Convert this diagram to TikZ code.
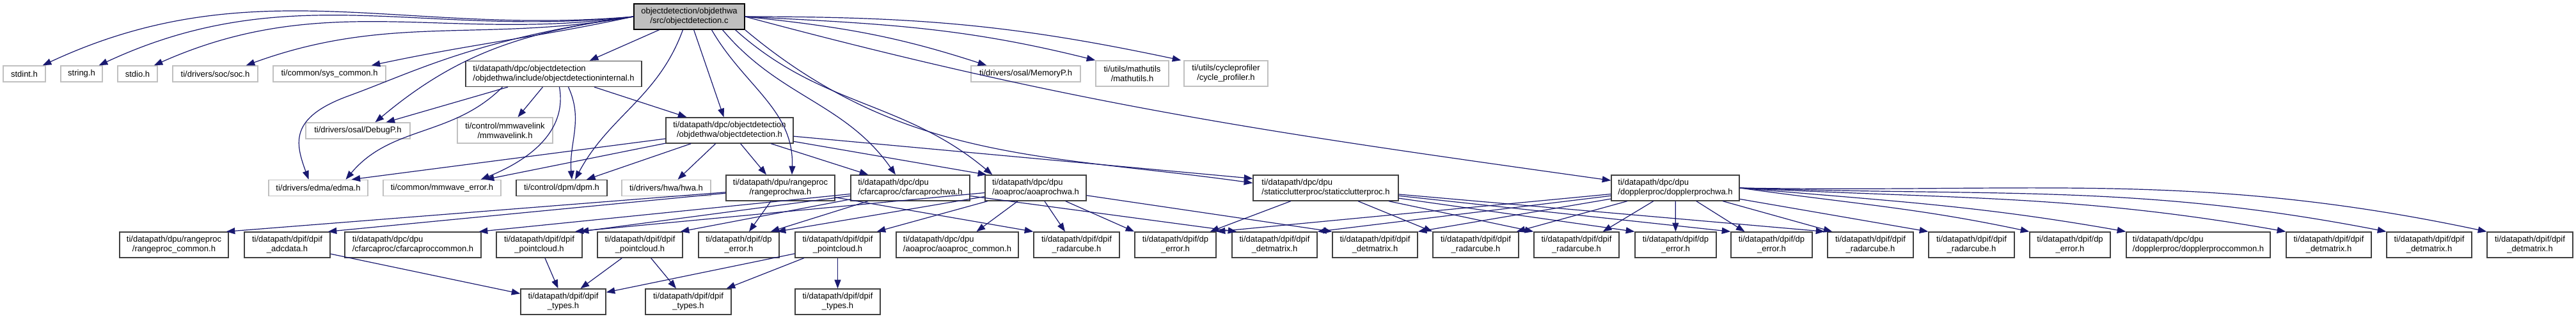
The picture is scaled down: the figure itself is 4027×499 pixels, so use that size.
\documentclass[tikz,border=0pt]{standalone}
\usepackage{fontspec}
\usepackage{tikz}
\usetikzlibrary{arrows.meta}
\usepackage{xcolor}
\newfontfamily\doxfont{Liberation Sans}
\newdimen\dpx
\dpx=0.25pt
\definecolor{DoxEdge}{HTML}{191970}
\definecolor{DoxGrey}{HTML}{C0C0C0}
\definecolor{DoxFill}{HTML}{BFBFBF}
\definecolor{DoxBorder}{HTML}{404040}
\tikzset{
  hdr/.style={draw=DoxBorder,fill=white,line width=0.35pt,font=\doxfont\fontsize{3.25pt}{3.75pt}\selectfont,inner xsep=3\dpx,inner ysep=2\dpx,minimum height=40\dpx,align=center},
  exthdr/.style={hdr,draw=DoxGrey},
  oneline/.style={minimum height=25\dpx},
  dep/.style={draw=DoxEdge,line width=0.3pt,-{Triangle[length=3.4pt,width=2.5pt]}}
}

\begin{document}
\begin{tikzpicture}[x=0.25pt,y=-0.25pt]
        \useasboundingbox[fill=white] (0,0) rectangle (4027,499);

        \node[hdr,fill=DoxFill,draw=black,minimum width=173\dpx] (top) at (1077.5,26) {objectdetection/objdethwa\\/src/objectdetection.c};

        \node[exthdr,oneline,minimum width=66\dpx] (stdint) at (38,115.5) {stdint.h};
        \node[exthdr,oneline,minimum width=65\dpx] (string) at (127.5,115.5) {string.h};
        \node[exthdr,oneline,minimum width=62\dpx] (stdio) at (215,115.5) {stdio.h};
        \node[exthdr,oneline,minimum width=133\dpx] (soc) at (336.5,115.5) {ti/drivers/soc/soc.h};
        \node[exthdr,oneline,minimum width=176\dpx] (syscommon) at (515,115.5) {ti/common/sys\_common.h};
        \node[hdr,align=left,minimum width=275\dpx] (internal) at (865.5,115.5) {ti/datapath/dpc/objectdetection\\/objdethwa/include/objectdetectioninternal.h};
        \node[exthdr,oneline,minimum width=171\dpx] (memoryp) at (1603.5,115.5) {ti/drivers/osal/MemoryP.h};
        \node[exthdr,minimum width=114\dpx] (mathutils) at (1770,115) {ti/utils/mathutils\\/mathutils.h};
        \node[exthdr,minimum width=131\dpx] (cycleprof) at (1916.5,115) {ti/utils/cycleprofiler\\/cycle\_profiler.h};

        \node[exthdr,oneline,minimum width=163\dpx] (debugp) at (559.5,204.5) {ti/drivers/osal/DebugP.h};
        \node[exthdr,minimum width=149\dpx] (mmwlink) at (789.5,204) {ti/control/mmwavelink\\/mmwavelink.h};
        \node[hdr,minimum width=199\dpx] (objdet) at (1140.5,204) {ti/datapath/dpc/objectdetection\\/objdethwa/objectdetection.h};

        \node[exthdr,oneline,minimum width=155\dpx] (edma) at (497.5,294) {ti/drivers/edma/edma.h};
        \node[exthdr,oneline,minimum width=184\dpx] (mmwerr) at (691,294) {ti/common/mmwave\_error.h};
        \node[hdr,oneline,minimum width=142\dpx] (dpm) at (878,294) {ti/control/dpm/dpm.h};
        \node[exthdr,oneline,minimum width=139\dpx] (hwa) at (1041.5,294) {ti/drivers/hwa/hwa.h};
        \node[hdr,minimum width=170\dpx] (rangehwa) at (1220,294) {ti/datapath/dpu/rangeproc\\/rangeprochwa.h};
        \node[hdr,align=left,minimum width=186\dpx] (cfarhwa) at (1423,294) {ti/datapath/dpc/dpu\\/cfarcaproc/cfarcaprochwa.h};
        \node[hdr,align=left,minimum width=158\dpx] (aoahwa) at (1619,294) {ti/datapath/dpc/dpu\\/aoaproc/aoaprochwa.h};
        \node[hdr,align=left,minimum width=227\dpx] (clutter) at (2072.5,294) {ti/datapath/dpc/dpu\\/staticclutterproc/staticclutterproc.h};
        \node[hdr,align=left,minimum width=200\dpx] (dopplerhwa) at (2619,294) {ti/datapath/dpc/dpu\\/dopplerproc/dopplerprochwa.h};

        \node[hdr,minimum width=170\dpx] (rangecommon) at (272,383) {ti/datapath/dpu/rangeproc\\/rangeproc\_common.h};
        \node[hdr,minimum width=134\dpx] (adcdata) at (449,383) {ti/datapath/dpif/dpif\\\_adcdata.h};
        \node[hdr,align=left,minimum width=213\dpx] (cfarcommon) at (645.5,383) {ti/datapath/dpc/dpu\\/cfarcaproc/cfarcaproccommon.h};
        \node[hdr,minimum width=134\dpx] (pcloudA) at (843,383) {ti/datapath/dpif/dpif\\\_pointcloud.h};
        \node[hdr,minimum width=133\dpx] (pcloudB) at (1000.5,383) {ti/datapath/dpif/dpif\\\_pointcloud.h};
        \node[hdr,minimum width=126\dpx] (errA) at (1155,383) {ti/datapath/dpif/dp\\\_error.h};
        \node[hdr,minimum width=133\dpx] (pcloudC) at (1309.5,383) {ti/datapath/dpif/dpif\\\_pointcloud.h};
        \node[hdr,align=left,minimum width=191\dpx] (aoacommon) at (1496.5,383) {ti/datapath/dpc/dpu\\/aoaproc/aoaproc\_common.h};
        \node[hdr,minimum width=134\dpx] (cubeA) at (1683,383) {ti/datapath/dpif/dpif\\\_radarcube.h};
        \node[hdr,minimum width=127\dpx] (errB) at (1837.5,383) {ti/datapath/dpif/dp\\\_error.h};
        \node[hdr,minimum width=133\dpx] (detA) at (1992.5,383) {ti/datapath/dpif/dpif\\\_detmatrix.h};
        \node[hdr,minimum width=133\dpx] (detB) at (2149.5,383) {ti/datapath/dpif/dpif\\\_detmatrix.h};
        \node[hdr,minimum width=134\dpx] (cubeB) at (2307,383) {ti/datapath/dpif/dpif\\\_radarcube.h};
        \node[hdr,minimum width=133\dpx] (cubeC) at (2464.5,383) {ti/datapath/dpif/dpif\\\_radarcube.h};
        \node[hdr,minimum width=127\dpx] (errC) at (2619.5,383) {ti/datapath/dpif/dp\\\_error.h};
        \node[hdr,minimum width=127\dpx] (errD) at (2769.5,383) {ti/datapath/dpif/dp\\\_error.h};
        \node[hdr,minimum width=134\dpx] (cubeD) at (2924,383) {ti/datapath/dpif/dpif\\\_radarcube.h};
        \node[hdr,minimum width=134\dpx] (cubeE) at (3082,383) {ti/datapath/dpif/dpif\\\_radarcube.h};
        \node[hdr,minimum width=126\dpx] (errE) at (3236,383) {ti/datapath/dpif/dp\\\_error.h};
        \node[hdr,align=left,minimum width=225\dpx] (dopplercommon) at (3436.5,383) {ti/datapath/dpc/dpu\\/dopplerproc/dopplerproccommon.h};
        \node[hdr,minimum width=133\dpx] (detC) at (3640.5,383) {ti/datapath/dpif/dpif\\\_detmatrix.h};
        \node[hdr,minimum width=133\dpx] (detD) at (3797.5,383) {ti/datapath/dpif/dpif\\\_detmatrix.h};
        \node[hdr,minimum width=134\dpx] (detE) at (3955,383) {ti/datapath/dpif/dpif\\\_detmatrix.h};

        \node[hdr,minimum width=133\dpx] (typesA) at (880.5,472) {ti/datapath/dpif/dpif\\\_types.h};
        \node[hdr,minimum width=134\dpx] (typesB) at (1076,472) {ti/datapath/dpif/dpif\\\_types.h};
        \node[hdr,minimum width=133\dpx] (typesC) at (1309.5,472) {ti/datapath/dpif/dpif\\\_types.h};

        \coordinate (edmabend) at (545,150);

        \draw[dep] (top.west) to[out=185,in=25] ([xshift=-5\dpx]stdint.north east);
        \draw[dep] (top.west) to[out=186,in=25] ([xshift=-6\dpx]string.north east);
        \draw[dep] (top.west) to[out=188,in=24] ([xshift=-6\dpx]stdio.north east);
        \draw[dep] (top.west) to[out=190,in=20] ([xshift=-19\dpx]soc.north east);
        \draw[dep] (top.west) to[out=192,in=12] ([xshift=-23\dpx]syscommon.north east);
        \draw[dep] (top.west) to[out=188,in=40] ([xshift=27\dpx]debugp.north);
        \draw[dep] (top.west) to[out=188,in=20,out distance=250\dpx,in distance=110\dpx] (edmabend)
          to[out=200,in=110,out distance=100\dpx,in distance=60\dpx] ([xshift=-15\dpx]edma.north);
        \draw[dep] (top) -- ([xshift=-82\dpx]internal.north east);
        \draw[dep] ([xshift=-10\dpx]top.south) to[out=-110,in=62] ([xshift=21\dpx]dpm.north);
        \draw[dep] (top) -- ([xshift=-9\dpx]objdet.north);
        \draw[dep] ([xshift=35\dpx]top.south) to[out=-60,in=88] ([xshift=18\dpx]rangehwa.north);
        \draw[dep] ([xshift=52\dpx]top.south) to[out=-50,in=125] ([xshift=-23\dpx]cfarhwa.north);
        \draw[dep] ([xshift=72\dpx]top.south) to[out=-42,in=140] ([xshift=12\dpx]aoahwa.north west);
        \draw[dep] (top.south east) to[out=-40,in=172] ([yshift=-13\dpx]clutter.north west);
        \draw[dep] (top.east) to[out=-15,in=172] ([yshift=-9\dpx]dopplerhwa.north west);
        \draw[dep] (top.east) to[out=-6,in=162] ([xshift=25\dpx]memoryp.north west);
        \draw[dep] (top.east) to[out=-3,in=166] (mathutils.north west);
        \draw[dep] (top.east) to[out=0,in=168] ([xshift=-4\dpx]cycleprof.north west);

        \draw[dep] (internal) -- ([xshift=44\dpx]debugp.north);
        \draw[dep] ([xshift=-80\dpx]internal.south) to[out=-135,in=50] ([xshift=43\dpx]edma.north);
        \draw[dep] (internal) -- ([xshift=20\dpx]mmwlink.north);
        \draw[dep] ([xshift=9\dpx]internal.south) to[out=-80,in=22] ([xshift=-32\dpx]mmwerr.north east);
        \draw[dep] ([xshift=23\dpx]internal.south) to[out=-65,in=95] ([xshift=16\dpx]dpm.north);
        \draw[dep] (internal) -- ([xshift=-67\dpx]objdet.north);

        \draw[dep] (objdet) -- ([xshift=52\dpx]edma.north);
        \draw[dep] (objdet) -- ([xshift=-25\dpx]mmwerr.north east);
        \draw[dep] (objdet) -- ([xshift=39\dpx]dpm.north);
        \draw[dep] (objdet) -- ([xshift=18\dpx]hwa.north);
        \draw[dep] (objdet) -- ([xshift=-22\dpx]rangehwa.north);
        \draw[dep] (objdet) -- ([xshift=28\dpx]cfarhwa.north west);
        \draw[dep] (objdet) -- ([xshift=3\dpx]aoahwa.north west);
        \draw[dep] (objdet) -- ([yshift=-6\dpx]clutter.north west);

        \draw[dep] (rangehwa) -- ([xshift=-4\dpx]rangecommon.north east);
        \draw[dep] (rangehwa) -- ([xshift=-4\dpx]adcdata.north east);
        \draw[dep] (rangehwa) -- ([xshift=16\dpx]errA.north);
        \draw[dep] (rangehwa) -- (cubeA.north west);
        \draw[dep] (cfarhwa) -- ([xshift=-4\dpx]cfarcommon.north east);
        \draw[dep] (cfarhwa) -- ([xshift=-4\dpx]pcloudA.north east);
        \draw[dep] (cfarhwa) -- ([xshift=-4\dpx]pcloudB.north east);
        \draw[dep] (cfarhwa) -- ([xshift=-14\dpx]errA.north east);
        \draw[dep] (cfarhwa) -- ([xshift=8\dpx]detA.north west);
        \draw[dep] (aoahwa) -- ([xshift=-12\dpx]pcloudA.north east);
        \draw[dep] (aoahwa) -- ([xshift=-4\dpx]errA.north east);
        \draw[dep] (aoahwa) -- ([xshift=-6\dpx]pcloudC.north east);
        \draw[dep] (aoahwa) -- ([xshift=30\dpx]aoacommon.north);
        \draw[dep] (aoahwa) -- ([xshift=-18\dpx]cubeA.north);
        \draw[dep] (aoahwa) -- (errB.north west);
        \draw[dep] (aoahwa) -- (detB.north west);
        \draw[dep] (clutter) -- ([xshift=-10\dpx]errB.north east);
        \draw[dep] (clutter) -- (cubeB.north west);
        \draw[dep] (clutter) -- (cubeC.north west);
        \draw[dep] (clutter) -- (errC.north west);
        \draw[dep] (clutter) -- (errD.north west);
        \draw[dep] (clutter) -- ([xshift=-4\dpx]cubeD.north west);
        \draw[dep] (dopplerhwa) -- (errB.north east);
        \draw[dep] (dopplerhwa) -- (detA.north east);
        \draw[dep] (dopplerhwa) -- (detB.north east);
        \draw[dep] (dopplerhwa) -- ([xshift=-4\dpx]cubeB.north east);
        \draw[dep] (dopplerhwa) -- ([xshift=-26\dpx]cubeC.north east);
        \draw[dep] (dopplerhwa) -- (errC);
        \draw[dep] (dopplerhwa) -- ([xshift=-42\dpx]errD.north);
        \draw[dep] (dopplerhwa) -- ([xshift=8\dpx]cubeD.north west);
        \draw[dep] (dopplerhwa) -- (cubeE.north west);
        \draw[dep] (dopplerhwa.east) to[out=-8,in=168] (errE.north west);
        \draw[dep] (dopplerhwa.east) to[out=-5,in=170] (dopplercommon.north west);
        \draw[dep] (dopplerhwa.east) to[out=-3,in=170] (detC.north west);
        \draw[dep] (dopplerhwa.east) to[out=-2,in=169] (detD.north west);
        \draw[dep] (dopplerhwa.east) to[out=-1,in=168] (detE.north west);

        \draw[dep] (adcdata) -- ([yshift=-8\dpx]typesA.north west);
        \draw[dep] (pcloudA) -- ([xshift=-8\dpx]typesA.north);
        \draw[dep] (pcloudB) -- ([xshift=27\dpx]typesA.north);
        \draw[dep] (pcloudB) -- ([xshift=-19\dpx]typesB.north);
        \draw[dep] (pcloudC) -- ([yshift=-6\dpx]typesA.north east);
        \draw[dep] (pcloudC) -- ([xshift=-8\dpx]typesB.north east);
        \draw[dep] (pcloudC) -- (typesC);
      \end{tikzpicture}
\end{document}
